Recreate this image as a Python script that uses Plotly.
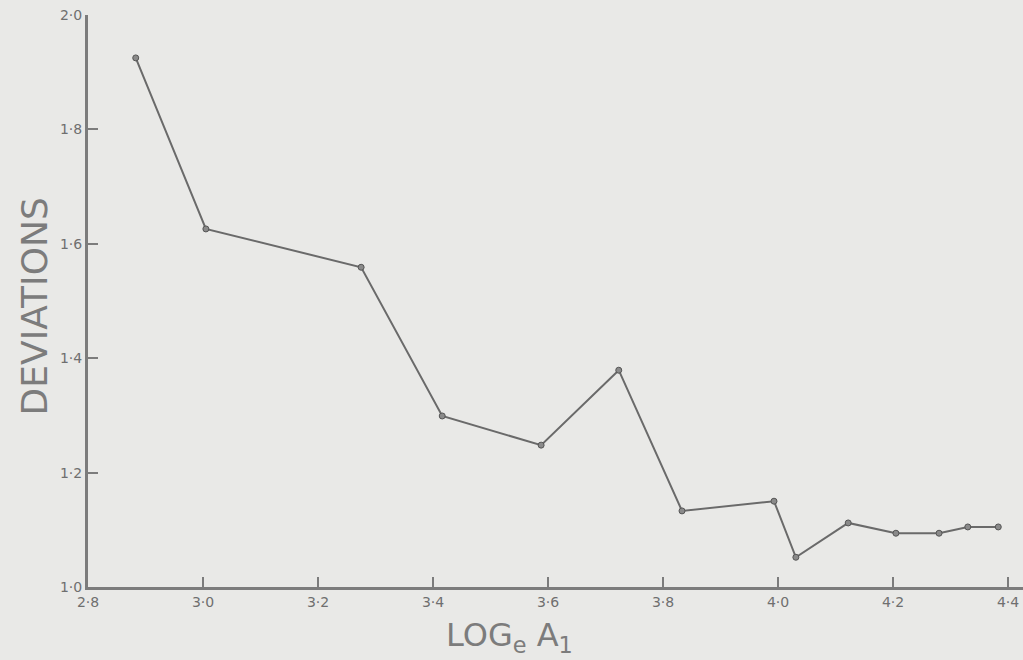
import plotly.graph_objects as go

log_a = [2.883, 3.005, 3.275, 3.416, 3.588, 3.723, 3.833, 3.993, 4.031, 4.122, 4.205, 4.280, 4.330, 4.383]
deviations = [1.925, 1.626, 1.559, 1.299, 1.248, 1.379, 1.133, 1.150, 1.052, 1.112, 1.094, 1.094, 1.105, 1.105]

x_tickvals = [2.8, 3.0, 3.2, 3.4, 3.6, 3.8, 4.0, 4.2, 4.4]
x_ticktext = ["2·8", "3·0", "3·2", "3·4", "3·6", "3·8", "4·0", "4·2", "4·4"]
y_tickvals = [1.0, 1.2, 1.4, 1.6, 1.8, 2.0]
y_ticktext = ["1·0", "1·2", "1·4", "1·6", "1·8", "2·0"]

GRAY = "#7c7c7c"
BG = "#e9e9e7"

fig = go.Figure()
fig.add_trace(go.Scatter(
    x=log_a, y=deviations, mode="lines+markers",
    line=dict(color="#6a6a6a", width=2),
    marker=dict(size=6, color="#8a8a8a", line=dict(color="#555555", width=1)),
    showlegend=False,
))

fig.update_layout(
    width=1023, height=660,
    margin=dict(l=88, r=0, t=15, b=73),
    paper_bgcolor=BG, plot_bgcolor=BG,
    font=dict(family="DejaVu Sans", color=GRAY),
    xaxis=dict(
        range=[2.8, 4.426], tickvals=x_tickvals, ticktext=x_ticktext,
        showgrid=False, zeroline=False, showline=True, linecolor=GRAY, linewidth=3,
        ticks="inside", ticklen=10, tickwidth=2, tickcolor=GRAY,
        tickfont=dict(size=14, color="#6f6f6f"),
    ),
    yaxis=dict(
        range=[1.0, 2.0], tickvals=y_tickvals, ticktext=y_ticktext,
        showgrid=False, zeroline=False, showline=True, linecolor=GRAY, linewidth=3,
        ticks="inside", ticklen=10, tickwidth=2, tickcolor=GRAY,
        tickfont=dict(size=14, color="#6f6f6f"),
    ),
    annotations=[
        dict(text="DEVIATIONS", textangle=-90, xref="paper", yref="paper",
             x=-0.057, y=0.49, xanchor="center", yanchor="middle", showarrow=False,
             font=dict(size=36, color=GRAY, family="DejaVu Sans")),
        dict(text="LOG<sub>e</sub> A<sub>1</sub>", xref="paper", yref="paper",
             x=0.451, y=-0.088, xanchor="center", yanchor="middle", showarrow=False,
             font=dict(size=32, color=GRAY, family="DejaVu Sans")),
    ],
)

fig.write_html("out.html")
